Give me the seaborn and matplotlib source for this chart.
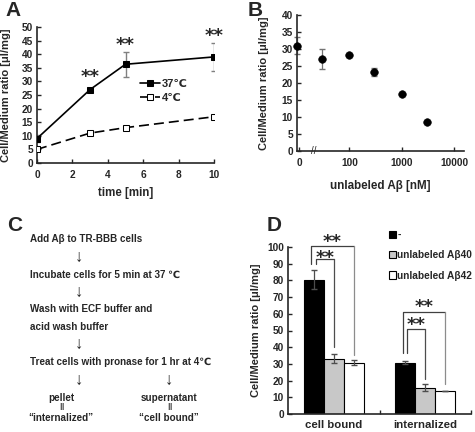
import numpy as np
import pandas as pd
import matplotlib.pyplot as plt
import matplotlib.transforms as mtransforms
import seaborn as sns

# Panel A: uptake time course
time_min = [0, 3, 5, 10]
ratio_37 = [9.0, 27.0, 36.3, 39.0]
err_37 = [1.2, 0.0, 4.6, 5.2]
ratio_4 = [5.0, 11.0, 13.0, 17.0]
err_4 = [0.4, 0.0, 0.0, 0.0]
stars_A = [33.0, 44.5, 48.0]

# Panel B: competition by unlabeled Abeta
conc_nM = [0, 30, 100, 300, 1000, 3000]
ratio_B = [31.0, 27.0, 28.3, 23.2, 16.7, 8.5]
err_B = [2.4, 3.0, 0.0, 1.2, 0.0, 0.0]

# Panel D: cell bound vs internalized
groups = ['cell bound', 'internalized']
treatments = ['-', 'unlabeled Aβ40', 'unlabeled Aβ42']
d_none = [80.5, 30.8]
d_ab40 = [33.0, 15.7]
d_ab42 = [30.7, 13.6]
e_none = [5.7, 0.8]
e_ab40 = [2.7, 2.1]
e_ab42 = [1.4, 0.0]

sns.set_style('ticks')
plt.rcParams['font.family'] = ['Liberation Sans', 'DejaVu Sans']
plt.rcParams['font.weight'] = 'bold'
plt.rcParams['font.size'] = 7
plt.rcParams['axes.linewidth'] = 1.2
plt.rcParams['axes.labelweight'] = 'bold'

W, H = 475, 432
fig = plt.figure(figsize=(4.75, 4.32), dpi=100)


def box(l, t, r, b):
    return [l / W, 1 - b / H, (r - l) / W, (b - t) / H]


def style_axes(ax):
    sns.despine(ax=ax)
    ax.tick_params(direction='in', length=3, width=1, labelsize=7.3, pad=3)
    ax.tick_params(axis='x', pad=5)
    for lab in ax.get_xticklabels() + ax.get_yticklabels():
        lab.set_fontweight('bold')


def star(ax, x, y, size=13):
    tr = mtransforms.offset_copy(ax.transData, fig=fig, y=-2.5, units='points')
    ax.text(x, y, '**', ha='center', va='center', fontsize=size,
            fontweight='bold', family='DejaVu Sans', transform=tr,
            clip_on=False)


# ---------------- A ----------------
axA = fig.add_axes(box(37, 27, 214, 163))
sns.lineplot(x=time_min, y=ratio_37, ax=axA, color='black', lw=1.2,
             marker='s', markersize=5, markerfacecolor='black',
             markeredgecolor='black', label='37℃', zorder=3)
sns.lineplot(x=time_min, y=ratio_4, ax=axA, color='black', lw=1.2,
             linestyle=(0, (6, 3)), marker='s', markersize=5,
             markerfacecolor='white', markeredgecolor='black',
             label='4℃', zorder=3)
axA.errorbar(time_min, ratio_37, yerr=err_37, fmt='none', ecolor='0.5',
             elinewidth=1, capsize=2.5, zorder=2)
axA.errorbar(time_min, ratio_4, yerr=err_4, fmt='none', ecolor='0.5',
             elinewidth=1, capsize=2.5, zorder=2)
for t, s in zip(time_min[1:], stars_A):
    star(axA, t, s)
axA.set_xlim(0, 10)
axA.set_ylim(0, 50)
axA.set_xticks(range(0, 11, 2))
axA.set_yticks(range(0, 51, 5))
axA.set_xlabel('time [min]', fontsize=8.3, labelpad=5)
axA.set_ylabel('Cell/Medium ratio [μl/mg]', fontsize=8)
axA.yaxis.set_label_coords(-0.145, 0.5)
axA.legend(loc='upper left', bbox_to_anchor=(0.55, 0.66), frameon=False,
           fontsize=8, handlelength=1.8, handletextpad=0.2,
           labelspacing=0.4, borderpad=0)
style_axes(axA)

# ---------------- B ----------------
axB = fig.add_axes(box(297, 15, 464, 151))
x_plot = [10 if c == 0 else c for c in conc_nM]
axB.errorbar(x_plot, ratio_B, yerr=err_B, fmt='none', ecolor='0.45',
             elinewidth=0.9, capsize=2, zorder=2, clip_on=False)
sns.scatterplot(x=x_plot, y=ratio_B, ax=axB, color='black', s=30,
                edgecolor='black', zorder=3, clip_on=False)
axB.set_xscale('log')
axB.set_xlim(10, 15500)
axB.set_ylim(0, 40)
axB.set_xticks([11, 100, 1000, 10000])
axB.set_xticklabels(['0', '100', '1000', '10000'])
axB.minorticks_off()
axB.set_yticks(range(0, 41, 5))
axB.text(21, 0, '//', ha='center', va='center', fontsize=7,
         fontweight='normal', clip_on=False)
axB.set_xlabel('unlabeled Aβ [nM]', fontsize=8.4, labelpad=9)
axB.set_ylabel('Cell/Medium ratio [μl/mg]', fontsize=8)
axB.yaxis.set_label_coords(-0.17, 0.5)
style_axes(axB)

# ---------------- C ----------------
def ctext(x, y, s, ha='left', size=7.1):
    fig.text(x / W, 1 - y / H, s, ha=ha, va='center', fontsize=size,
             fontweight='bold')


ctext(30, 239, 'Add Aβ to TR-BBB cells')
ctext(79, 257, '↓', ha='center', size=12)
ctext(30, 275, 'Incubate cells for 5 min at 37 ℃')
ctext(79, 292, '↓', ha='center', size=12)
ctext(30, 309, 'Wash with ECF buffer and')
ctext(30, 327, 'acid wash buffer')
ctext(79, 344, '↓', ha='center', size=12)
ctext(30, 362, 'Treat cells with pronase for 1 hr at 4℃')
ctext(79, 380, '↓', ha='center', size=12)
ctext(169, 380, '↓', ha='center', size=12)
ctext(61, 398, 'pellet', ha='center')
ctext(61, 408, '‖', ha='center', size=6.5)
ctext(61, 418, '“internalized”', ha='center')
ctext(169, 398, 'supernatant', ha='center')
ctext(169, 408, '‖', ha='center', size=6.5)
ctext(169, 418, '“cell bound”', ha='center')

# ---------------- D ----------------
axD = fig.add_axes(box(288, 247, 471, 414))
df = pd.DataFrame({
    'group': groups * 3,
    'treatment': [t for t in treatments for _ in groups],
    'ratio': d_none + d_ab40 + d_ab42,
})
sns.barplot(data=df, x='group', y='ratio', hue='treatment', ax=axD,
            palette=['black', '#c8c8c8', 'white'], edgecolor='black',
            linewidth=0.8, width=0.66, errorbar=None, saturation=1)
errs = [e_none, e_ab40, e_ab42]
centers = []
for cont, ee in zip(axD.containers, errs):
    xs = [b.get_x() + b.get_width() / 2 for b in cont]
    hs = [b.get_height() for b in cont]
    centers.append(xs)
    axD.errorbar(xs, hs, yerr=ee, fmt='none', ecolor='0.3', elinewidth=0.9,
                 capsize=2, zorder=3)

# significance brackets: (group, target bar, top, left bottom, right bottom, left shift)
brackets = [
    (0, 2, 100.6, 90.0, 35.5, -0.025, '0.55', 105.0),
    (0, 1, 92.8, 90.0, 40.0, 0.025, '0.3', 95.3),
    (1, 2, 61.0, 36.7, 18.0, -0.025, '0.55', 66.0),
    (1, 1, 51.0, 36.7, 21.0, 0.025, '0.3', 55.5),
]
for g, tgt, top, lb, rb, dx, rc, sy in brackets:
    xl = centers[0][g] + dx
    xr = centers[tgt][g]
    axD.plot([xl, xl, xr], [lb, top, top], color='0.25', lw=0.9,
             clip_on=False)
    axD.plot([xr, xr], [top, rb], color=rc, lw=0.9, clip_on=False)
    star(axD, (xl + xr) / 2, sy)

axD.set_xlim(-0.5, 1.5)
axD.set_ylim(0, 100)
axD.set_yticks(range(0, 101, 10))
axD.set_xticks([0.5, 1.5], minor=True)
axD.set_xlabel('')
axD.set_ylabel('Cell/Medium ratio [μl/mg]', fontsize=8)
axD.yaxis.set_label_coords(-0.15, 0.5)
axD.legend(loc='upper left', bbox_to_anchor=(0.55, 1.1), frameon=False,
           fontsize=7.3, handlelength=0.7, handleheight=0.7,
           handletextpad=0.15, labelspacing=1.0, borderpad=0,
           borderaxespad=0)
style_axes(axD)
axD.tick_params(axis='x', which='major', length=0, pad=4.5)
axD.tick_params(axis='x', which='minor', direction='in', length=3, width=1)
for lab in axD.get_xticklabels():
    lab.set_fontsize(8.2)

# panel letters
for lx, ly, s in [(5, 10, 'A'), (248, 10, 'B'), (7, 225, 'C'), (267, 225, 'D')]:
    fig.text(lx / W, 1 - ly / H, s, ha='left', va='center', fontsize=15,
             fontweight='bold')

fig.savefig('out.png', dpi=100)
